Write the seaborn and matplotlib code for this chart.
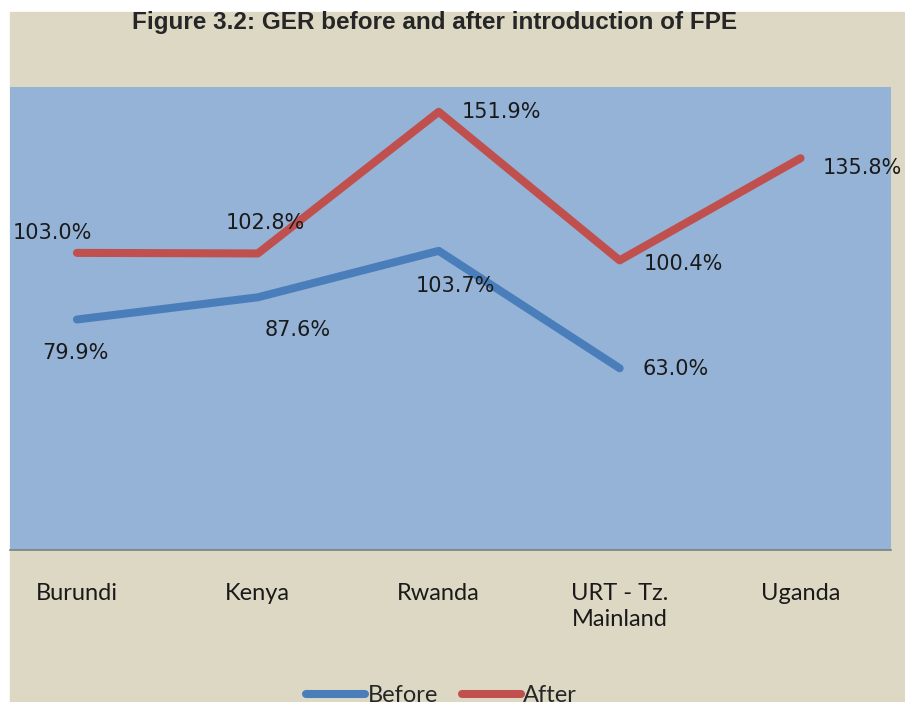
import matplotlib
matplotlib.use("Agg")
import matplotlib.pyplot as plt
import seaborn as sns
import pandas as pd

# Data
countries = ["Burundi", "Kenya", "Rwanda", "URT - Tz.\nMainland", "Uganda"]
before = [79.9, 87.6, 103.7, 63.0, None]
after = [103.0, 102.8, 151.9, 100.4, 135.8]

# label offsets in pixels (dx, dy) from each point
before_off = [(-1, -33), (40, -33), (17, -35), (56, -1)]
after_off = [(-25, 20), (7, 30), (63, 0), (64, -4), (62, -10)]

blue = "#4a7ebb"
red = "#c0504d"
beige = "#ddd8c3"
plot_bg = "#95b3d7"

df = pd.DataFrame({"x": range(len(countries)), "Before": before, "After": after})
long = df.melt(id_vars="x", var_name="series", value_name="ger").dropna()

sns.set_style("white")
plt.rcParams["font.family"] = ["DejaVu Sans"]

fig = plt.figure(figsize=(9.05, 7.02), dpi=100, facecolor="white")
fig.patches.append(plt.Rectangle((10 / 905, 0), 1, (702 - 12) / 702,
                                 transform=fig.transFigure, color=beige, zorder=-5))
ax = fig.add_axes([10 / 905, 152 / 702, 881 / 905, 463 / 702])
ax.set_facecolor(plot_bg)

sns.lineplot(data=long, x="x", y="ger", hue="series",
             palette={"Before": blue, "After": red},
             linewidth=5.8, ax=ax, legend=True, solid_capstyle="round")

for i, v in enumerate(before):
    if v is None:
        continue
    ax.annotate(f"{v:.1f}%", (i, v), xytext=before_off[i], textcoords="offset pixels",
                ha="center", va="center", fontsize=15, color="#1a1a1a")
for i, v in enumerate(after):
    ax.annotate(f"{v:.1f}%", (i, v), xytext=after_off[i], textcoords="offset pixels",
                ha="center", va="center", fontsize=15, color="#1a1a1a",
                annotation_clip=False)

ax.set_xlim(-0.37, 4.5)
ax.set_ylim(0, 160.5)
ax.set_xticks(range(len(countries)))
ax.set_xticklabels(countries, fontfamily="Lato", fontsize=17, color="#1a1a1a",
                   linespacing=1.25, va="top")
ax.tick_params(axis="x", length=0, pad=24)
ax.set_yticks([])
ax.set_xlabel("")
ax.set_ylabel("")
for s in ["top", "left", "right"]:
    ax.spines[s].set_visible(False)
ax.spines["bottom"].set_color("#7f7f7f")
ax.spines["bottom"].set_linewidth(1.2)

fig.text(435 / 905, 1 - 23 / 702, "Figure 3.2: GER before and after introduction of FPE",
         ha="center", va="center", fontsize=17.5, fontweight="bold",
         fontfamily="Liberation Sans")

handles, labels = ax.get_legend_handles_labels()
order = [labels.index("Before"), labels.index("After")]
leg = ax.legend([handles[k] for k in order], [labels[k] for k in order],
                loc="center", bbox_to_anchor=(0.49, -0.315), ncol=2, frameon=False,
                prop={"family": "Lato", "size": 17}, handlelength=2.5,
                handletextpad=0.1, columnspacing=1.0)
for line in leg.get_lines():
    line.set_linewidth(5.8)
    line.set_solid_capstyle("round")

fig.savefig("out.png", dpi=100, facecolor=fig.get_facecolor())
